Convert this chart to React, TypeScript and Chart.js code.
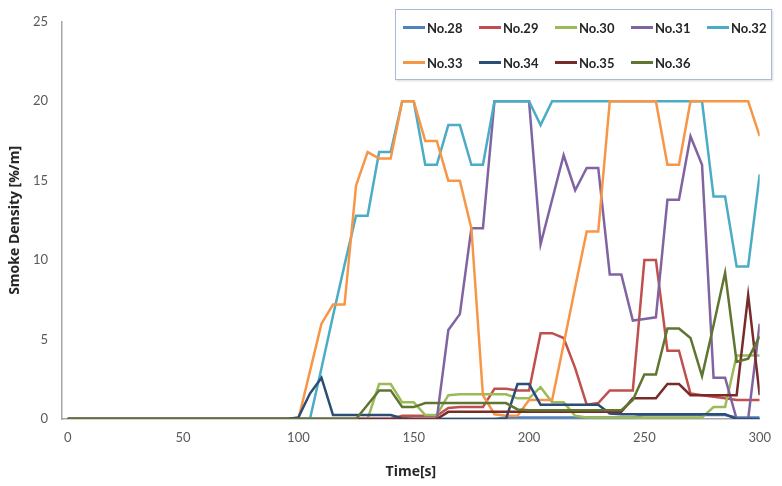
import React, { useEffect, useRef } from "react";
import { Chart, registerables } from "chart.js";

Chart.register(...registerables);

const TIMES = [
  0, 5, 10, 15, 20, 25, 30, 35, 40, 45,
  50, 55, 60, 65, 70, 75, 80, 85, 90, 95,
  100, 105, 110, 115, 120, 125, 130, 135, 140, 145,
  150, 155, 160, 165, 170, 175, 180, 185, 190, 195,
  200, 205, 210, 215, 220, 225, 230, 235, 240, 245,
  250, 255, 260, 265, 270, 275, 280, 285, 290, 295,
  300,
];

const ZEROS_TO_95 = [0, 0, 0, 0, 0, 0, 0, 0, 0, 0, 0, 0, 0, 0, 0, 0, 0, 0, 0, 0];

const NO28 = [
  ...ZEROS_TO_95,
  0, 0, 0, 0, 0, 0, 0, 0, 0, 0,
  0, 0, 0, 0, 0, 0, 0, 0, 0.1, 0.1,
  0.1, 0.1, 0.1, 0.1, 0.1, 0.1, 0.1, 0.1, 0.1, 0.1,
  0.25, 0.25, 0.25, 0.25, 0.25, 0.25, 0.25, 0.25, 0.1, 0.1,
  0.1,
];
const NO29 = [
  ...ZEROS_TO_95,
  0, 0, 0, 0, 0, 0, 0, 0, 0, 0.2,
  0.2, 0.2, 0.2, 0.7, 0.75, 0.75, 0.75, 1.9, 1.9, 1.8,
  1.8, 5.4, 5.4, 5.1, 3.2, 0.9, 1.0, 1.8, 1.8, 1.8,
  10, 10, 4.3, 4.3, 1.6, 1.5, 1.4, 1.3, 1.2, 1.2,
  1.2,
];
const NO30 = [
  ...ZEROS_TO_95,
  0, 0, 0, 0, 0, 0, 0, 2.2, 2.2, 1.05,
  1.05, 0.25, 0.25, 1.5, 1.55, 1.55, 1.55, 1.55, 1.55, 1.3,
  1.3, 2.0, 1.05, 1.05, 0.2, 0.1, 0.1, 0.1, 0.1, 0.1,
  0.1, 0.1, 0.1, 0.1, 0.1, 0.1, 0.75, 0.75, 4.0, 4.0,
  4.0,
];
const NO31 = [
  ...ZEROS_TO_95,
  0, 0, 0, 0, 0, 0, 0, 0, 0, 0,
  0, 0, 0, 5.6, 6.6, 12, 12, 20, 20, 20,
  20, 11, 13.8, 16.6, 14.4, 15.8, 15.8, 9.1, 9.1, 6.2,
  6.3, 6.4, 13.8, 13.8, 17.8, 16, 2.6, 2.6, 0, 0,
  6,
];
const NO32 = [
  ...ZEROS_TO_95,
  0, 0, 3.2, 6.5, 9.7, 12.8, 12.8, 16.8, 16.8, 20,
  20, 16, 16, 18.5, 18.5, 16, 16, 20, 20, 20,
  20, 18.5, 20, 20, 20, 20, 20, 20, 20, 20,
  20, 20, 20, 20, 20, 20, 14, 14, 9.6, 9.6,
  15.4,
];
const NO33 = [
  ...ZEROS_TO_95,
  0, 3, 6, 7.2, 7.2, 14.7, 16.8, 16.4, 16.4, 20,
  20, 17.5, 17.5, 15, 15, 12, 1.5, 0.3, 0.2, 0.2,
  1.2, 1.2, 1.2, 4.7, 8.3, 11.8, 11.8, 20, 20, 20,
  20, 20, 16, 16, 20, 20, 20, 20, 20, 20,
  17.8,
];
const NO34 = [
  ...ZEROS_TO_95,
  0.1, 1.6, 2.6, 0.25, 0.25, 0.25, 0.25, 0.25, 0.25, 0.05,
  0, 0, 0, 0, 0, 0, 0, 0, 0, 2.2,
  2.2, 0.9, 0.9, 0.9, 0.9, 0.9, 0.9, 0.35, 0.3, 0.3,
  0.3, 0.3, 0.3, 0.3, 0.3, 0.3, 0.3, 0.3, 0, 0,
  0,
];
const NO35 = [
  ...ZEROS_TO_95,
  0, 0, 0, 0, 0, 0, 0, 0, 0, 0,
  0, 0, 0, 0.45, 0.45, 0.45, 0.45, 0.45, 0.45, 0.45,
  0.45, 0.45, 0.45, 0.45, 0.45, 0.45, 0.45, 0.45, 0.45, 1.3,
  1.3, 1.3, 2.2, 2.2, 1.5, 1.5, 1.5, 1.5, 1.5, 7.8,
  1.5,
];
const NO36 = [
  ...ZEROS_TO_95,
  0, 0, 0, 0, 0, 0, 0.9, 1.8, 1.8, 0.75,
  0.75, 1.0, 1.0, 1.0, 1.0, 1.0, 1.0, 1.0, 1.0, 0.6,
  0.55, 0.55, 0.55, 0.55, 0.55, 0.55, 0.55, 0.55, 0.55, 1.2,
  2.8, 2.8, 5.7, 5.7, 5.1, 2.7, 5.9, 9.2, 3.6, 3.8,
  5.2,
];

const SERIES_NAMES = ["No.28", "No.29", "No.30", "No.31", "No.32", "No.33", "No.34", "No.35", "No.36"];
const SERIES_VALUES = [NO28, NO29, NO30, NO31, NO32, NO33, NO34, NO35, NO36];
const SERIES_COLORS = [
  "#4F81BD", "#C0504D", "#9BBB59", "#8064A2", "#4BACC6",
  "#F79646", "#2C4D75", "#772C2A", "#5F7530",
];

const Y_TICKS = [0, 5, 10, 15, 20, 25];
const X_TICKS = [0, 50, 100, 150, 200, 250, 300];

const FONT = "Lato, 'Open Sans', sans-serif";
const TITLE_FONT = "'Open Sans', Lato, sans-serif";

function SmokeChart() {
  const canvasRef = useRef<HTMLCanvasElement | null>(null);
  const chartRef = useRef<Chart | null>(null);

  useEffect(() => {
    document.body.style.margin = "0";
    if (!canvasRef.current) return;
    chartRef.current?.destroy();

    const datasets = SERIES_NAMES.map((name, i) => ({
      label: name,
      data: TIMES.map((t, k) => ({ x: t, y: SERIES_VALUES[i][k] })),
      borderColor: SERIES_COLORS[i],
      backgroundColor: SERIES_COLORS[i],
      borderWidth: 2.5,
      pointRadius: 0,
      tension: 0,
      order: SERIES_NAMES.length - i, // later series on top, like Excel
    }));

    chartRef.current = new Chart(canvasRef.current, {
      type: "line",
      data: { datasets },
      options: {
        animation: false,
        responsive: true,
        maintainAspectRatio: false,
        layout: { padding: { left: 0, top: 17, right: 19, bottom: 0 } },
        plugins: { legend: { display: false }, tooltip: { enabled: false } },
        scales: {
          x: {
            type: "linear",
            min: -2.5,
            max: 300,
            afterFit: (scale: any) => {
              scale.height = 67;
            },
            afterBuildTicks: (scale: any) => {
              scale.ticks = X_TICKS.map((v) => ({ value: v }));
            },
            ticks: {
              color: "#595959",
              font: { family: FONT, size: 13 },
              padding: 11,
              maxRotation: 0,
            },
            grid: { display: true, drawOnChartArea: false, drawTicks: false },
            border: { display: true, color: "#A6A6A6", width: 1.5 },
            title: {
              display: true,
              text: "Time[s]",
              color: "#262626",
              font: { family: TITLE_FONT, size: 14, weight: "bold" },
              padding: { top: 0, bottom: 6 },
            },
          },
          y: {
            min: 0,
            max: 25,
            afterFit: (scale: any) => {
              scale.width = 62;
            },
            afterBuildTicks: (scale: any) => {
              scale.ticks = Y_TICKS.map((v) => ({ value: v }));
            },
            ticks: {
              color: "#595959",
              font: { family: FONT, size: 13 },
              padding: 14,
            },
            grid: { display: true, drawOnChartArea: false, drawTicks: false },
            border: { display: true, color: "#A6A6A6", width: 1.5 },
            title: {
              display: true,
              text: "Smoke Density [%/m]",
              color: "#262626",
              font: { family: TITLE_FONT, size: 14, weight: "bold" },
              padding: { top: 7, bottom: 0 },
            },
          },
        },
      },
    } as any);

    return () => {
      chartRef.current?.destroy();
      chartRef.current = null;
    };
  }, []);

  return (
    <div style={{ position: "relative", width: 782, height: 486, background: "#fff" }}>
      <canvas ref={canvasRef} />
      <div
        style={{
          position: "absolute",
          left: 395,
          top: 9,
          width: 377,
          height: 71,
          boxSizing: "border-box",
          border: "1px solid #A9BBD6",
          background: "#fff",
          boxShadow: "1px 1px 2px rgba(0,0,0,0.15)",
        }}
      >
        {SERIES_NAMES.map((name, i) => (
          <div
            key={name}
            style={{
              position: "absolute",
              left: 7 + (i % 5) * 76,
              top: Math.floor(i / 5) * 35,
              height: 35,
              display: "flex",
              alignItems: "center",
              whiteSpace: "nowrap",
              fontFamily: FONT,
              fontWeight: 700,
              fontSize: 13,
              color: "#262626",
            }}
          >
            <span
              style={{
                display: "inline-block",
                width: 22,
                height: 3,
                background: SERIES_COLORS[i],
                marginRight: 2,
              }}
            />
            {name}
          </div>
        ))}
      </div>
    </div>
  );
}

export default function App() {
  return <SmokeChart />;
}
